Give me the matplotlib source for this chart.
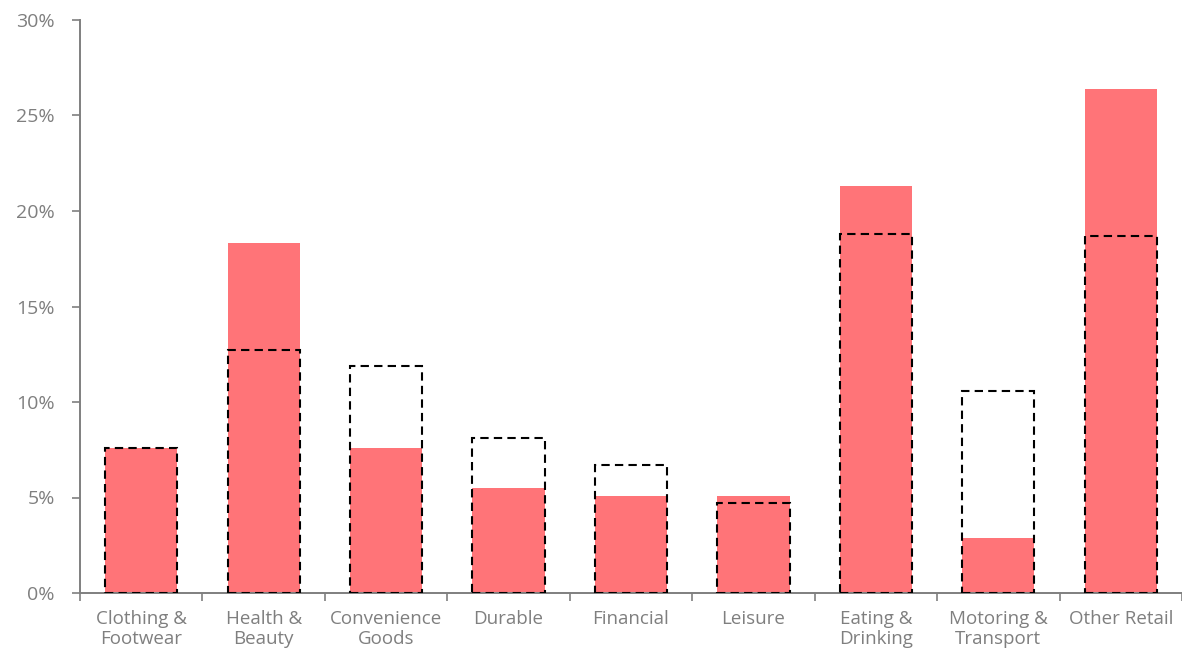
import numpy as np
import matplotlib.pyplot as plt
from matplotlib.ticker import FuncFormatter, FixedLocator

categories = ["Clothing &\nFootwear", "Health &\nBeauty", "Convenience\nGoods", "Durable",
              "Financial", "Leisure", "Eating &\nDrinking", "Motoring &\nTransport", "Other Retail"]
actual = [7.6, 18.3, 7.6, 5.5, 5.1, 5.1, 21.3, 2.9, 26.4]
benchmark = [7.6, 12.7, 11.9, 8.1, 6.7, 4.7, 18.8, 10.6, 18.7]

plt.rcParams['font.family'] = ['Open Sans', 'DejaVu Sans']

fig = plt.figure(figsize=(11.82, 6.53), dpi=100)
ax = fig.add_axes([80 / 1182, 1 - 593 / 653, 1 - 80 / 1182, (593 - 20) / 653])

x = np.arange(len(categories))
ax.bar(x, actual, width=0.59, color='#ff7478', zorder=2)
ax.bar(x, benchmark, width=0.59, fill=False, edgecolor='black', linestyle=(0, (4, 2.5)),
       linewidth=1.5, zorder=3)

ax.set_xlim(-0.5, len(categories) - 0.5)
ax.set_ylim(0, 30)
ax.set_yticks(np.arange(0, 31, 5))
ax.yaxis.set_major_formatter(FuncFormatter(lambda v, p: f"{v:.0f}%"))

ax.set_xticks(x)
ax.set_xticklabels(categories, linespacing=1.15)
ax.xaxis.set_minor_locator(FixedLocator(np.arange(-0.5, len(categories), 1)))
ax.tick_params(axis='x', which='major', length=0, pad=12, labelsize=13.5, labelcolor='#7f7f7f')
ax.tick_params(axis='x', which='minor', length=6, width=1.2, color='#7f7f7f', direction='out')
ax.tick_params(axis='y', length=6, width=1.2, color='#7f7f7f', labelsize=14,
               labelcolor='#7f7f7f', pad=12)

for side in ['top', 'right']:
    ax.spines[side].set_visible(False)
for side in ['left', 'bottom']:
    ax.spines[side].set_color('#7f7f7f')
    ax.spines[side].set_linewidth(1.4)

plt.savefig('out.png', dpi=100)
